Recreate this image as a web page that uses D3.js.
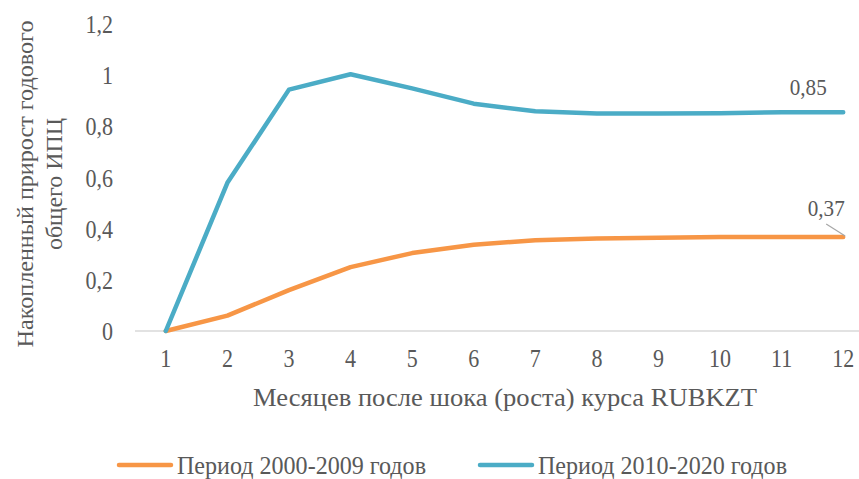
<!DOCTYPE html>
<html>
<head>
<meta charset="utf-8">
<script src="https://cdn.jsdelivr.net/npm/d3@7"></script>
<style>
  body { margin: 0; background: #fff; }
</style>
</head>
<body>
<div id="chart"></div>
<script>
var width = 859, height = 479;
var FONT = "Liberation Serif";
var GREY = "#595959";
var SX = 0.88;   // the original text is a bit narrow

var months = [1, 2, 3, 4, 5, 6, 7, 8, 9, 10, 11, 12];
var period1 = [0, 0.06, 0.16, 0.25, 0.305, 0.338, 0.355, 0.362, 0.365, 0.368, 0.368, 0.368];
var period2 = [0, 0.58, 0.945, 1.005, 0.95, 0.89, 0.86, 0.852, 0.852, 0.853, 0.856, 0.856];
var yTicks = [0, 0.2, 0.4, 0.6, 0.8, 1, 1.2];
var seriesNames = ["Период 2000-2009 годов", "Период 2010-2020 годов"];
var colors = ["#F79646", "#4BACC6"];

var svg = d3.select("#chart").append("svg")
    .attr("width", width)
    .attr("height", height);

function txt(sel, size) {
  return sel.attr("font-family", FONT).attr("font-size", size).attr("fill", GREY);
}

var x = d3.scalePoint()
    .domain(months)
    .range([135, 874])
    .padding(0.5);

var y = d3.scaleLinear()
    .domain([0, 1.2])
    .range([331, 24.5]);

var fmt = function(d) { return String(d).replace(".", ","); };

// y tick labels
txt(svg.append("g").selectAll("text")
  .data(yTicks)
  .enter().append("text")
    .attr("transform", function(d) { return "translate(113," + y(d) + ") scale(" + SX + ",1)"; })
    .attr("dy", "0.35em")
    .attr("text-anchor", "end"), 25)
    .text(fmt);

// baseline
svg.append("line")
    .attr("x1", 135).attr("x2", 874)
    .attr("y1", y(0)).attr("y2", y(0))
    .attr("stroke", "#d9d9d9")
    .attr("stroke-width", 1.5);

// x tick labels
txt(svg.append("g").selectAll("text")
  .data(months)
  .enter().append("text")
    .attr("transform", function(d) { return "translate(" + x(d) + ",358) scale(" + SX + ",1)"; })
    .attr("dy", "0.35em")
    .attr("text-anchor", "middle"), 25)
    .text(function(d) { return d; });

var line = d3.line()
    .x(function(d, i) { return x(months[i]); })
    .y(function(d) { return y(d); });

[period1, period2].forEach(function(s, i) {
  svg.append("path")
      .datum(s)
      .attr("d", line)
      .attr("fill", "none")
      .attr("stroke", colors[i])
      .attr("stroke-width", 4.5)
      .attr("stroke-linecap", "round")
      .attr("stroke-linejoin", "round");
});

// data labels at the last month
var last = months.length - 1;
var lx = x(months[last]);
txt(svg.append("text")
    .attr("transform", "translate(" + (lx - 35) + "," + (y(period2[last]) - 26) + ") scale(" + SX + ",1)")
    .attr("dy", "0.35em")
    .attr("text-anchor", "middle"), 24)
    .text(fmt(0.85));

svg.append("line")
    .attr("x1", lx - 17)
    .attr("y1", y(period1[last]) - 13)
    .attr("x2", lx + 2)
    .attr("y2", y(period1[last]) - 1)
    .attr("stroke", "#a6a6a6")
    .attr("stroke-width", 1.2);

txt(svg.append("text")
    .attr("transform", "translate(" + (lx - 17) + "," + (y(period1[last]) - 29) + ") scale(" + SX + ",1)")
    .attr("dy", "0.35em")
    .attr("text-anchor", "middle"), 24)
    .text(fmt(0.37));

// axis titles
txt(svg.append("text")
    .attr("x", 505)
    .attr("y", 397)
    .attr("dy", "0.35em")
    .attr("text-anchor", "middle")
    .attr("textLength", 504)
    .attr("lengthAdjust", "spacingAndGlyphs"), 26)
    .text("Месяцев после шока (роста) курса RUBKZT");

txt(svg.append("text")
    .attr("transform", "translate(33,184) rotate(-90)")
    .attr("text-anchor", "middle")
    .attr("textLength", 327)
    .attr("lengthAdjust", "spacingAndGlyphs"), 24)
    .text("Накопленный прирост годового");

txt(svg.append("text")
    .attr("transform", "translate(62,184) rotate(-90)")
    .attr("text-anchor", "middle")
    .attr("textLength", 132)
    .attr("lengthAdjust", "spacingAndGlyphs"), 24)
    .text("общего ИПЦ");

// legend
var legendX = [117, 478];
var legend = svg.append("g").selectAll("g")
  .data(seriesNames)
  .enter().append("g")
    .attr("transform", function(d, i) { return "translate(" + legendX[i] + ",465)"; });

legend.append("line")
    .attr("x1", 2).attr("x2", 54)
    .attr("stroke", function(d, i) { return colors[i]; })
    .attr("stroke-width", 4.5)
    .attr("stroke-linecap", "round");

txt(legend.append("text")
    .attr("x", 60)
    .attr("dy", "0.35em")
    .attr("textLength", 249)
    .attr("lengthAdjust", "spacingAndGlyphs"), 25)
    .text(function(d) { return d; });
</script>
</body>
</html>
